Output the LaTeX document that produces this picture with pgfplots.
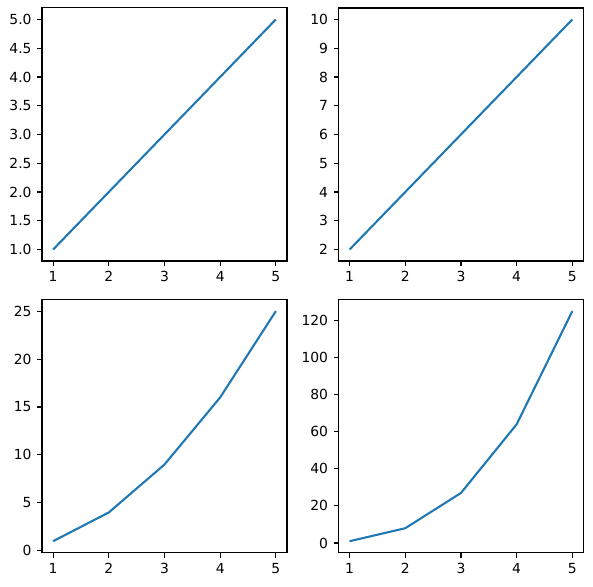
\documentclass[border=0pt]{standalone}
\usepackage{fontspec}
\setmainfont{DejaVu Sans}
\usepackage{pgfplots}
\pgfplotsset{compat=1.18}
\definecolor{mplblue}{HTML}{1F77B4}
\tikzset{mline/.style={draw=mplblue, line width=1.5pt, mark=none, line join=round, line cap=butt}}
\pgfplotsset{
  mpl/.style={
    scale only axis,
    width=176.4pt, height=182.2pt,
    anchor=south west,
    axis line style={line width=0.8pt},
    tick style={line width=0.8pt, black},
    major tick length=3.5pt,
    tick align=outside,
    xtick pos=bottom, ytick pos=left,
    xmin=0.8, xmax=5.2,
    xtick={1,2,3,4,5},
    tick label style={font=\fontsize{10pt}{12pt}\selectfont},
    /pgf/number format/assume math mode=true,
    xticklabel style={yshift=-0.5pt},
    yticklabel style={xshift=-0.5pt},
  }
}
\begin{document}
\begin{tikzpicture}
\useasboundingbox (0,0) rectangle (426.96pt,421.92pt);
\begin{axis}[mpl, at={(30.24pt,234.0pt)},
  ymin=0.8, ymax=5.2, ytick={1,1.5,2,2.5,3,3.5,4,4.5,5},
  yticklabel style={/pgf/number format/.cd, fixed, fixed zerofill, precision=1}]
\addplot[mline] coordinates {(1,1) (2,2) (3,3) (4,4) (5,5)};
\end{axis}
\begin{axis}[mpl, at={(243.7pt,234.0pt)},
  ymin=1.6, ymax=10.4, ytick={2,3,4,5,6,7,8,9,10}]
\addplot[mline] coordinates {(1,2) (2,4) (3,6) (4,8) (5,10)};
\end{axis}
\begin{axis}[mpl, at={(30.24pt,23.98pt)},
  ymin=-0.2, ymax=26.2, ytick={0,5,10,15,20,25}]
\addplot[mline] coordinates {(1,1) (2,4) (3,9) (4,16) (5,25)};
\end{axis}
\begin{axis}[mpl, at={(243.7pt,23.98pt)},
  ymin=-5.2, ymax=131.2, ytick={0,20,40,60,80,100,120}]
\addplot[mline] coordinates {(1,1) (2,8) (3,27) (4,64) (5,125)};
\end{axis}
\end{tikzpicture}
\end{document}
